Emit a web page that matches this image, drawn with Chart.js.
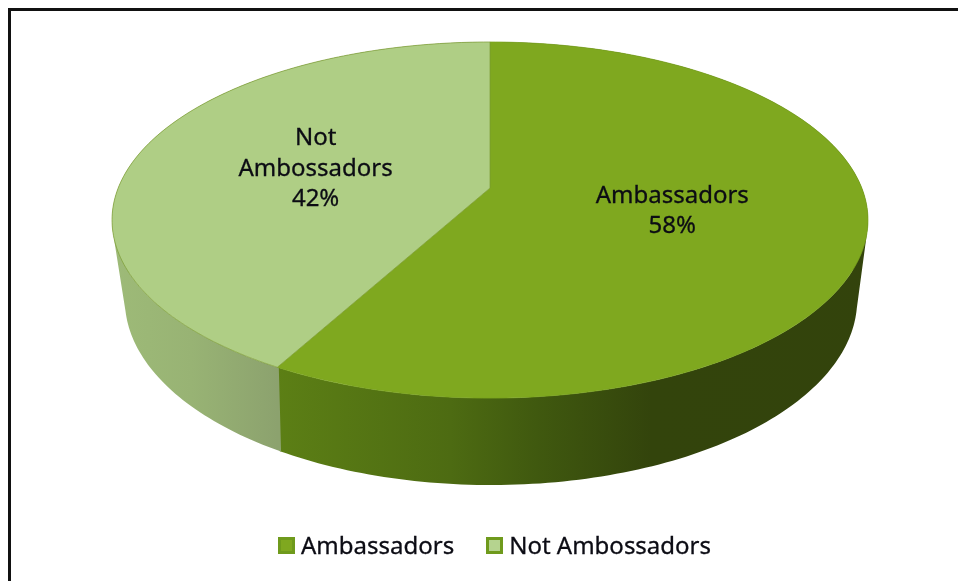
<!DOCTYPE html>
<html lang="en">
<head>
  <meta charset="UTF-8">
  <title>Ambassadors</title>
  <script src="https://cdn.jsdelivr.net/npm/chart.js"></script>
  <style>
    html, body { margin: 0; background: #fff; overflow: hidden; }
    #wrap { position: relative; width: 958px; height: 581px; overflow: hidden; }
    #frame { position: absolute; left: 8px; top: 8px; width: 1000px; height: 700px; border: 3px solid #111; box-sizing: border-box; }
    #grafico { position: absolute; left: 0; top: 0; }
    #legenda { position: absolute; left: 278px; top: 529px; display: flex; font: 24px "Noto Sans", sans-serif; color: #0c0c14; line-height: 32px; -webkit-text-stroke: 0.3px #0c0c14; }
    #legenda div { display: flex; align-items: center; margin-right: 32px; }
    #legenda i { display: block; width: 11px; height: 11px; border: 3px solid #6f9a1c; margin-right: 6px; }
  </style>
</head>
<body>
  <div id="wrap">
    <div id="frame"></div>
    <canvas id="grafico" width="958" height="581"></canvas>
    <div id="legenda"></div>
  </div>

  <script>
    const categories = ["Ambassadors", "Not Ambossadors"];
    const percentages = [58, 42];
    // label text inside the slices, one entry per line
    const sliceLabels = [["Ambassadors"], ["Not", "Ambossadors"]];

    const topColors = ["#7fa81f", "#afce85"];
    const rimColors = ["#7aa31d", "#7d9c34"];
    const legendFill = ["#7fa81f", "#b5d38f"];
    // wall shading, left to right
    const wallStops = [
      [[0.29, "#5c7f15"], [0.47, "#4d6b12"], [0.56, "#40590f"], [0.68, "#33440c"], [1, "#33430c"]],
      [[0.11, "#9ebb78"], [0.2, "#98b374"], [0.29, "#8ca26e"]]
    ];

    // perspective projection of the unit disc to the screen
    const topFace = { x: 490, y: 188, a: 371.8, b: 172.3, k: 0.18 };
    const bottomFace = { x: 491, y: 261, a: 358, b: 177, k: 0.21 };

    function project(face, r, angle) {
      const X = r * Math.cos(angle), Y = r * Math.sin(angle);
      const w = 1 - face.k * Y;
      return { x: face.x + face.a * X / w, y: face.y + face.b * Y / w };
    }

    // adds one wall segment to the current path, always wound the same way
    function addQuad(ctx, pts) {
      let area = 0;
      pts.forEach((p, i) => {
        const n = pts[(i + 1) % 4];
        area += p.x * n.y - n.x * p.y;
      });
      const q = area < 0 ? pts.slice().reverse() : pts;
      ctx.moveTo(q[0].x, q[0].y);
      for (let i = 1; i < 4; i++) ctx.lineTo(q[i].x, q[i].y);
      ctx.closePath();
    }

    const pie3d = {
      id: "pie3d",
      // replaces the flat arcs, the angles still come from the doughnut controller
      beforeDatasetDraw(chart, args) {
        const ctx = chart.ctx;
        const arcs = args.meta.data;
        const step = Math.PI / 180;

        arcs.forEach((arc, i) => {
          const grad = ctx.createLinearGradient(0, 0, chart.width, 0);
          wallStops[i].forEach(s => grad.addColorStop(s[0], s[1]));
          ctx.fillStyle = grad;
          ctx.beginPath();
          // small overlap at the start, otherwise a light seam shows between the walls
          for (let t = arc.startAngle - 0.004; t < arc.endAngle; t += step) {
            const t2 = Math.min(t + step, arc.endAngle);
            addQuad(ctx, [
              project(topFace, 1, t), project(topFace, 1, t2),
              project(bottomFace, 1, t2), project(bottomFace, 1, t)
            ]);
          }
          ctx.fill();
        });

        arcs.forEach((arc, i) => {
          ctx.beginPath();
          ctx.moveTo(topFace.x, topFace.y);
          for (let t = arc.startAngle; t < arc.endAngle; t += step) {
            const p = project(topFace, 1, t);
            ctx.lineTo(p.x, p.y);
          }
          const last = project(topFace, 1, arc.endAngle);
          ctx.lineTo(last.x, last.y);
          ctx.closePath();
          ctx.fillStyle = topColors[i];
          ctx.fill();
          ctx.strokeStyle = rimColors[i];
          ctx.lineWidth = 0.7;
          ctx.stroke();
        });

        ctx.fillStyle = "#0c0c14";
        ctx.strokeStyle = "#0c0c14";
        ctx.lineWidth = 0.3;
        ctx.font = '24px "Noto Sans", sans-serif';
        ctx.textAlign = "center";
        ctx.textBaseline = "middle";
        arcs.forEach((arc, i) => {
          const c = project(topFace, 0.495, (arc.startAngle + arc.endAngle) / 2);
          const lines = sliceLabels[i].concat(percentages[i] + "%");
          lines.forEach((txt, n) => {
            const y = c.y + 1.5 + (n - (lines.length - 1) / 2) * 30.5;
            ctx.fillText(txt, c.x, y);
            ctx.strokeText(txt, c.x, y);
          });
        });
        return false;
      }
    };

    new Chart(document.getElementById("grafico"), {
      type: "pie",
      data: {
        labels: categories,
        datasets: [{ data: percentages, backgroundColor: topColors, borderWidth: 0 }]
      },
      options: {
        responsive: false,
        animation: false,
        events: [],
        plugins: { legend: { display: false }, tooltip: { enabled: false } }
      },
      plugins: [pie3d]
    });

    // legend goes in html so the swatch can sit right next to the text
    const legenda = document.getElementById("legenda");
    categories.forEach((name, i) => {
      const item = document.createElement("div");
      const box = document.createElement("i");
      box.style.background = legendFill[i];
      const txt = document.createElement("span");
      txt.textContent = name;
      item.appendChild(box);
      item.appendChild(txt);
      legenda.appendChild(item);
    });
  </script>
</body>
</html>
